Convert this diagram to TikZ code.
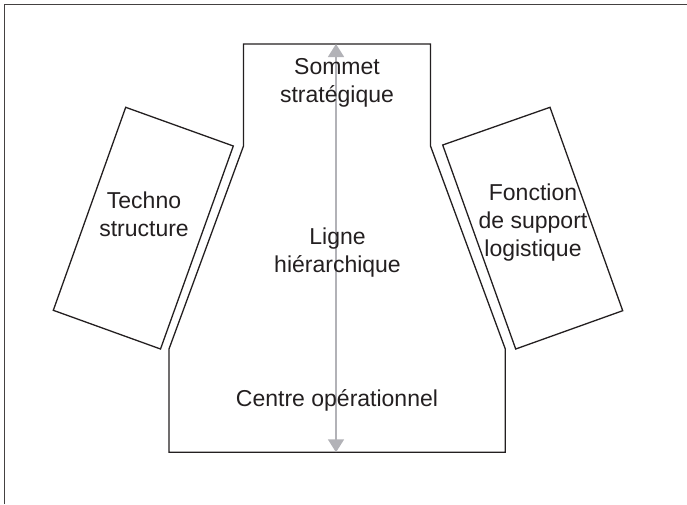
\documentclass[tikz,border=0pt]{standalone}
\usepackage{fontspec}
\setmainfont{Liberation Sans}
\usetikzlibrary{arrows.meta}
\definecolor{ink}{RGB}{35,31,32}
\definecolor{axis}{RGB}{178,178,183}
\begin{document}
\begin{tikzpicture}[x=1pt,y=-1pt,
  outline/.style={draw=ink,line width=1.3pt,line join=miter},
  lbl/.style={text=ink,font=\fontsize{23}{28}\selectfont,align=center,anchor=base,inner sep=0pt},
  axisarrow/.style={draw=axis,line width=1.6pt,{Triangle[width=16pt,length=13pt]}-{Triangle[width=16pt,length=13pt]}}]
\useasboundingbox (0,0) rectangle (687,504);
% frame
\draw[draw=ink!85,line width=1.6pt] (4.5,504) -- (4.5,4.5) -- (687,4.5);
% central shape
\coordinate (c1) at (243.5,44);
\coordinate (c2) at (430.5,44);
\coordinate (c3) at (430.5,146);
\coordinate (c4) at (505.3,349);
\coordinate (c5) at (505.3,452.3);
\coordinate (c6) at (169,452.3);
\coordinate (c7) at (169,349);
\coordinate (c8) at (243.5,146);
\draw[outline] (c1) -- (c2) -- (c3) -- (c4) -- (c5) -- (c6) -- (c7) -- (c8) -- cycle;
% left box
\coordinate (l1) at (125.7,107.3);
\coordinate (l2) at (233.3,146);
\coordinate (l3) at (160.5,349);
\coordinate (l4) at (53.3,310.3);
\draw[outline] (l1) -- (l2) -- (l3) -- (l4) -- cycle;
% right box
\coordinate (r1) at (442.7,145);
\coordinate (r2) at (550,107.3);
\coordinate (r3) at (622.7,310.7);
\coordinate (r4) at (515.7,349);
\draw[outline] (r1) -- (r2) -- (r3) -- (r4) -- cycle;
% axis arrow
\coordinate (atop) at (336,44);
\coordinate (abot) at (336,452.3);
\draw[axisarrow] (abot) -- (atop);
% labels (base anchor = baseline of last line)
\node[lbl] (sommet) at (337,102.7) {Sommet\\stratégique};
\node[lbl] (ligne) at (337.5,272.2) {Ligne\\hiérarchique};
\node[lbl] (centre) at (337,406.7) {Centre opérationnel};
\node[lbl] (techno) at (144,236.5) {Techno\\structure};
\node[lbl] (fonction) at (533,256.7) {Fonction\\de support\\logistique};
\end{tikzpicture}
\end{document}
